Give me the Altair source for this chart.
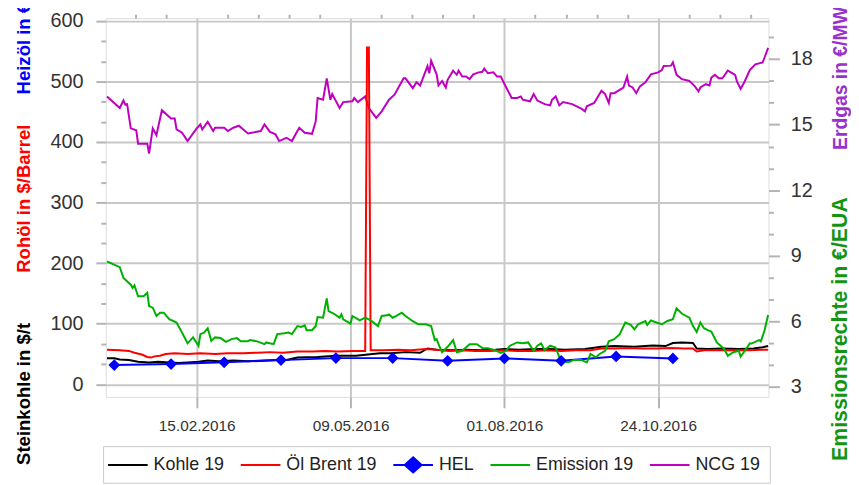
import altair as alt
import pandas as pd

# ---------------- data (day offsets relative to 2016-01-01) ----------------
kohle_day = [-4, 0, 3, 8, 13, 19, 24, 30, 35, 40, 46, 51, 57, 65, 73, 81, 89, 94, 100, 111,
             121, 132, 145, 151, 159, 167, 171, 176, 184, 192, 200, 208, 213, 221, 230, 238, 246, 257, 266, 273,
             284, 294, 301, 305, 310, 316, 318, 324, 332, 341, 349, 354, 357]
kohle_val = [43, 43, 41, 40, 37, 36, 37, 36, 35, 36, 37, 39, 38, 39, 38, 39, 40, 40, 44, 45,
             47, 47, 51, 51, 53, 52, 59, 57, 56, 57, 56, 57, 58, 57, 58, 58, 57, 58, 62, 63,
             62, 64, 63, 68, 69, 68, 59, 58, 59, 58, 59, 61, 63]

brent_day = [-4, 3, 8, 11, 15, 18, 20, 22, 25, 28, 33, 40, 47, 55, 62, 70, 78, 85, 92, 100,
             108, 115, 122, 130, 137, 138, 139, 140, 147, 155, 162, 170, 176, 183, 190, 197, 205, 212, 220, 228,
             236, 244, 252, 260, 266, 273, 280, 288, 296, 304, 311, 316, 318, 322, 330, 338, 346, 354, 357]
brent_val = [57, 56, 55, 52, 49, 45, 44, 46, 47, 50, 51, 50, 51, 50, 51, 51, 52, 53, 52, 54,
             54, 55, 54, 55, 55, 556, 556, 56, 56, 57, 56, 58, 57, 55, 56, 55, 55, 56, 55, 55,
             56, 55, 56, 56, 59, 59, 60, 59, 59, 60, 59, 59, 54, 56, 56, 56, 56, 57, 57]

hel_date = ["2016-01-01", "2016-02-01", "2016-03-01", "2016-04-01", "2016-05-01", "2016-06-01",
            "2016-07-01", "2016-08-01", "2016-09-01", "2016-10-01", "2016-11-01"]
hel_val = [31.7, 33.3, 36.1, 39.8, 43.1, 43.1, 38.7, 42.6, 38.7, 45.9, 42.6]

emis_day = [-4, -1, 3, 5, 9, 10, 11, 13, 16, 18, 19, 21, 23, 25, 27, 30, 34, 37, 40, 43,
            46, 47, 49, 51, 53, 55, 58, 61, 64, 67, 69, 73, 74, 78, 82, 83, 87, 89, 93, 95,
            97, 100, 102, 104, 105, 108, 110, 111, 114, 116, 117, 120, 123, 124, 125, 129, 130, 134, 137, 140,
            144, 146, 149, 150, 152, 154, 157, 159, 163, 166, 167, 170, 173, 175, 176, 177, 179, 182, 185, 187,
            190, 194, 198, 201, 204, 208, 211, 214, 216, 220, 223, 226, 229, 231, 233, 235, 238, 241, 243, 245,
            248, 251, 255, 258, 260, 263, 265, 268, 270, 273, 276, 279, 282, 284, 286, 290, 291, 293, 296, 299,
            302, 305, 307, 310, 314, 316, 318, 320, 322, 324, 326, 329, 333, 335, 338, 341, 342, 345, 347, 348,
            352, 353, 355, 357]
emis_val = [8.74, 8.63, 8.48, 7.99, 7.68, 7.53, 7.65, 7.15, 7.15, 7.31, 6.70, 6.63, 6.25, 6.40, 6.40, 6.10, 5.95, 5.49, 5.00, 5.27,
            4.89, 5.42, 5.49, 5.69, 5.11, 5.27, 5.24, 5.07, 5.19, 5.24, 5.09, 5.09, 5.15, 5.09, 4.96, 5.04, 4.96, 5.42, 5.46, 5.49,
            5.42, 5.79, 5.75, 5.82, 5.60, 5.60, 5.79, 6.20, 6.17, 7.05, 6.47, 6.35, 6.17, 6.32, 6.10, 5.90, 6.25, 6.05, 6.17, 6.05,
            5.79, 6.25, 6.28, 6.32, 6.17, 6.25, 6.40, 6.25, 6.01, 5.87, 5.87, 5.87, 5.79, 5.15, 5.19, 4.96, 4.59, 4.84, 5.15, 4.59,
            4.66, 4.96, 4.96, 4.78, 4.77, 4.69, 4.56, 4.66, 4.89, 5.04, 5.00, 5.04, 4.66, 4.89, 5.00, 4.69, 4.89, 4.81, 4.36, 4.18,
            4.13, 4.24, 4.24, 4.13, 4.51, 4.36, 4.51, 4.66, 5.09, 5.19, 5.42, 5.95, 5.84, 5.64, 5.87, 6.02, 5.84, 6.05, 5.95, 5.87,
            6.02, 6.10, 6.60, 6.35, 6.17, 5.79, 5.52, 5.95, 5.69, 5.60, 5.54, 5.04, 4.74, 4.43, 4.59, 4.66, 4.39, 4.74, 5.00, 4.99,
            5.15, 5.09, 5.57, 6.29]

ncg_day = [-4, -2, 3, 5, 6, 7, 9, 12, 13, 18, 19, 21, 23, 26, 31, 33, 34, 37, 40, 45,
           47, 48, 51, 54, 55, 60, 62, 65, 68, 73, 80, 82, 85, 88, 90, 94, 97, 99, 101, 104,
           108, 110, 111, 114, 116, 118, 119, 123, 125, 130, 131, 133, 137, 139, 143, 146, 150, 153, 158, 159,
           163, 165, 167, 171, 172, 173, 176, 177, 179, 181, 182, 185, 187, 188, 190, 192, 194, 196, 199, 201,
           202, 204, 207, 209, 211, 214, 217, 220, 222, 223, 227, 229, 231, 235, 238, 239, 241, 243, 245, 250,
           255, 257, 258, 262, 266, 268, 270, 271, 273, 278, 280, 281, 283, 285, 287, 290, 293, 297, 299, 300,
           304, 305, 307, 310, 314, 317, 319, 320, 323, 325, 326, 328, 330, 332, 335, 339, 340, 342, 344, 347,
           350, 354, 355, 357]
ncg_val = [16.29, 16.14, 15.76, 16.11, 15.92, 15.94, 14.83, 14.74, 14.13, 14.13, 13.68, 14.83, 14.52, 15.66, 15.28, 15.28, 14.78, 14.63, 14.25, 14.83,
           15.01, 14.78, 15.13, 14.71, 14.86, 14.86, 14.71, 14.86, 14.95, 14.60, 14.71, 15.01, 14.67, 14.56, 14.25, 14.40, 14.25, 14.56, 14.86, 14.63,
           14.58, 15.16, 16.22, 16.14, 17.12, 16.14, 16.40, 15.76, 16.03, 16.07, 16.22, 16.03, 16.29, 15.76, 15.31, 15.61, 16.14, 16.37, 17.12, 17.12,
           16.67, 16.94, 16.79, 17.68, 17.35, 17.92, 17.30, 16.79, 17.00, 16.70, 17.05, 17.47, 17.28, 17.47, 17.20, 17.20, 17.08, 17.30, 17.39, 17.42,
           17.57, 17.35, 17.39, 17.20, 17.20, 16.70, 16.22, 16.22, 16.29, 16.14, 16.07, 16.40, 16.10, 15.94, 15.88, 16.14, 16.29, 15.88, 16.03, 15.94,
           15.73, 15.61, 15.84, 15.99, 16.55, 16.40, 15.99, 16.44, 16.44, 16.70, 17.20, 16.79, 16.70, 16.44, 16.75, 16.94, 17.30, 17.39, 17.50, 17.68,
           17.70, 17.85, 17.28, 17.08, 17.00, 16.75, 16.52, 16.70, 16.85, 16.79, 17.15, 17.28, 17.12, 17.12, 17.47, 17.28, 16.97, 16.64, 16.94, 17.50,
           17.76, 17.85, 18.06, 18.51]

series_names = ["Kohle 19", "Öl Brent 19", "HEL", "Emission 19", "NCG 19"]
series_colors = ["#000000", "#ff0000", "#0000ff", "#00b000", "#c000c0"]

x_major_dates = ["2016-02-15", "2016-05-09", "2016-08-01", "2016-10-24"]
left_major = [0, 100, 200, 300, 400, 500, 600]
left_minor = [33.33, 66.67, 133.33, 166.67, 233.33, 266.67, 333.33, 366.67, 433.33, 466.67, 533.33, 566.67]
right_major = [3, 6, 9, 12, 15, 18]
right_minor = [4, 5, 7, 8, 10, 11, 13, 14, 16, 17, 19]

# ---------------- tables ----------------
BASE = pd.Timestamp("2016-01-01")
DAY_MS = 86400000
BASE_MS = BASE.value // 10**6


def frame(days, vals):
    return pd.DataFrame({
        "date": [(BASE + pd.Timedelta(days=int(d))).strftime("%Y-%m-%d") for d in days],
        "value": vals,
    })


kohle_df = frame(kohle_day, kohle_val)
brent_df = frame(brent_day, brent_val)
hel_df = pd.DataFrame({"date": hel_date, "value": hel_val})
emis_df = frame(emis_day, emis_val)
ncg_df = frame(ncg_day, ncg_val)
legend_df = pd.DataFrame({"series": series_names})

# ---------------- scales & axes ----------------
x_lo = BASE_MS - 4.65 * DAY_MS
x_hi = BASE_MS + 357.2 * DAY_MS
major_ms = [pd.Timestamp(d).value // 10**6 for d in x_major_dates]
minor_ms = [major_ms[0] + k * 16.8 * DAY_MS for k in range(-2, 19) if k % 5 != 0]

X_SCALE = alt.Scale(type="utc", domain=[x_lo, x_hi], nice=False)
YL = alt.Scale(domain=[-20.9, 604.6], nice=False, zero=False)
YR = alt.Scale(domain=[2.55, 19.87], nice=False, zero=False)

FONT = "Liberation Sans"
GRID = "#c8c8c8"
TICK = "#b4b4b4"

x_major_axis = alt.Axis(values=major_ms, labelExpr="utcFormat(datum.value, '%d.%m.%Y')", grid=True,
                        gridColor=GRID, gridWidth=2, tickSize=11, tickWidth=2, tickColor=TICK,
                        domain=False, labelFont=FONT, labelFontSize=15.5, labelColor="#333333",
                        labelPadding=11, labelFlush=False, labelOverlap=False, title=None)
x_minor_axis = alt.Axis(values=minor_ms, labels=False, grid=False, tickSize=4, tickWidth=2,
                        tickColor=TICK, domain=False, title=None)
yl_major_axis = alt.Axis(orient="left", values=left_major, grid=True, gridColor=GRID, gridWidth=2,
                         tickSize=10, tickWidth=2, tickColor=TICK, domain=False, labelFont=FONT,
                         labelFontSize=20, labelColor="#333333", labelPadding=13, labelOverlap=False,
                         title=None)
yl_minor_axis = alt.Axis(orient="left", values=left_minor, labels=False, grid=False, tickSize=5,
                         tickWidth=2, tickColor=TICK, domain=False, title=None)
yr_major_axis = alt.Axis(orient="right", values=right_major, grid=False, tickSize=11, tickWidth=2,
                         tickColor=TICK, domain=False, labelFont=FONT, labelFontSize=20,
                         labelColor="#333333", labelPadding=11, labelOverlap=False, title=None)
yr_minor_axis = alt.Axis(orient="right", values=right_minor, labels=False, grid=False, tickSize=5,
                         tickWidth=2, tickColor=TICK, domain=False, title=None)

# ---------------- layers ----------------
ncg = alt.Chart(ncg_df).mark_line(color=series_colors[4], strokeWidth=2).encode(
    x=alt.X("date:T", scale=X_SCALE, axis=None),
    y=alt.Y("value:Q", scale=YR, axis=yr_minor_axis),
)
kohle = alt.Chart(kohle_df).mark_line(color=series_colors[0], strokeWidth=2).encode(
    x=alt.X("date:T", scale=X_SCALE, axis=x_major_axis),
    y=alt.Y("value:Q", scale=YL, axis=yl_major_axis),
)
brent = alt.Chart(brent_df).mark_line(color=series_colors[1], strokeWidth=2).encode(
    x=alt.X("date:T", scale=X_SCALE, axis=x_minor_axis),
    y=alt.Y("value:Q", scale=YL, axis=yl_minor_axis),
)
hel_line = alt.Chart(hel_df).mark_line(color=series_colors[2], strokeWidth=2).encode(
    x=alt.X("date:T", scale=X_SCALE, axis=None),
    y=alt.Y("value:Q", scale=YL, axis=None),
)
emis = alt.Chart(emis_df).mark_line(color=series_colors[3], strokeWidth=2).encode(
    x=alt.X("date:T", scale=X_SCALE, axis=None),
    y=alt.Y("value:Q", scale=YR, axis=yr_major_axis),
)
hel_pts = alt.Chart(hel_df).mark_point(shape="diamond", filled=True, size=140,
                                       color=series_colors[2], opacity=1).encode(
    x=alt.X("date:T", scale=X_SCALE, axis=None),
    y=alt.Y("value:Q", scale=YL, axis=None),
)

LINE = "M-1.4,-0.1L2.6,-0.1L2.6,0.1L-1.4,0.1Z"
DIAMOND = LINE + "M0.6,-0.9L1.6,0L0.6,0.9L-0.4,0Z"
legend_shapes = [LINE, LINE, DIAMOND, LINE, LINE]

leg = alt.Legend(title=None, orient="none", legendX=-2.7, legendY=432, direction="horizontal",
                 columns=5, symbolSize=400, symbolStrokeWidth=0, labelOffset=22, columnPadding=16,
                 padding=9, strokeColor="#c8c8c8", fillColor="white", labelFont=FONT,
                 labelFontSize=18, labelColor="#222222", labelLimit=300, symbolLimit=0)
legend_layer = alt.Chart(legend_df).mark_point(filled=True, opacity=1).encode(
    color=alt.Color("series:N", scale=alt.Scale(domain=series_names, range=series_colors),
                    sort=series_names, legend=leg),
    shape=alt.Shape("series:N", scale=alt.Scale(domain=series_names, range=legend_shapes),
                    sort=series_names, legend=leg),
).transform_filter("false")


def title_text(txt, color, x, y, size):
    return alt.Chart(alt.Data(values=[{"k": 1}])).mark_text(
        text=txt, angle=270, align="left", baseline="middle", font=FONT,
        fontWeight="bold", fontSize=size, color=color,
    ).encode(x=alt.value(x), y=alt.value(y))


titles = [
    title_text("Steinkohle in $/t", "#000000", -82.2, 451, 18.7),
    title_text("Rohöl in $/Barrel", "#ff0000", -82.2, 257, 18.7),
    title_text("Heizöl in €/hl", "#0000ff", -82.2, 77, 18.7),
    title_text("Erdgas in €/MWh", "#9932cc", 741.8, 133, 19.5),
    title_text("Emissionsrechte in €/EUA", "#129612", 741.8, 447, 21.5),
]

chart = alt.layer(ncg, kohle, brent, hel_line, emis, hel_pts, legend_layer, *titles).resolve_scale(
    y="independent"
).resolve_axis(
    x="independent", y="independent"
).properties(
    width=669, height=382.3,
    autosize=alt.AutoSizeParams(type="none"),
    padding={"left": 98.7, "top": 8, "right": 83.3, "bottom": 86.7},
).configure_view(
    stroke="#b4b4b4", strokeWidth=2
).configure(
    background="white"
)

chart.save("out.html", embed_options={"renderer": "svg", "actions": False})
